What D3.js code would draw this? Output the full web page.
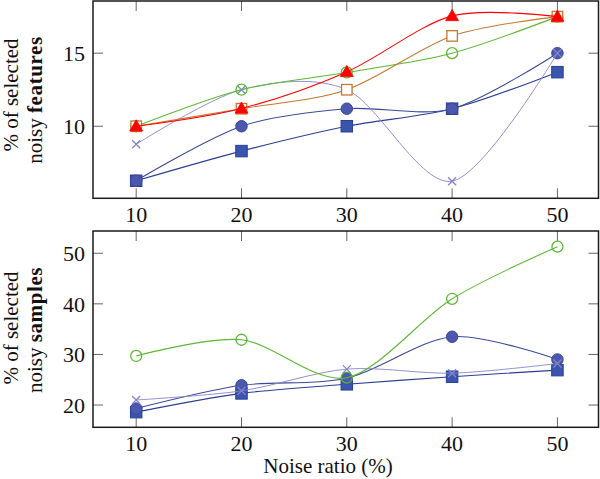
<!DOCTYPE html>
<html>
<head>
<meta charset="utf-8">
<script src="https://cdn.jsdelivr.net/npm/d3@7"></script>
<style>
  html, body { margin: 0; padding: 0; background: #fff; }
  svg { display: block; }
  text { font-family: "Liberation Serif", "Times New Roman", serif; fill: #111; }
</style>
</head>
<body>
<svg id="chart" width="600" height="479"></svg>
<script>
// ---- data ----
const noiseRatios = [10, 20, 30, 40, 50];
const xTickLabels = ["10", "20", "30", "40", "50"];

// top panel: % of selected noisy features
const featTicks = [10, 15];
const featBlueSquare = [6.27, 8.3, 10.0, 11.2, 13.7];
const featBlueCircle = [6.27, 10.0, 11.2, 11.2, 15.0];
const featPurpleCross = [8.77, 12.5, 12.5, 6.24, 15.0];
const featGreenCircle = [10.0, 12.5, 13.68, 15.0, 17.5];
const featOrangeSquare = [10.0, 11.2, 12.5, 16.18, 17.5];
const featRedTriangle = [10.0, 11.22, 13.72, 17.55, 17.5];

// bottom panel: % of selected noisy samples
const sampTicks = [20, 30, 40, 50];
const sampBlueSquare = [18.6, 22.3, 24.1, 25.6, 26.9];
const sampBlueCircle = [19.3, 23.9, 25.3, 33.5, 29.0];
const sampPurpleCross = [21.0, 22.8, 27.1, 26.3, 28.2];
const sampGreenCircle = [29.7, 32.9, 25.4, 41.0, 51.3];

// ---- styles ----
const styles = {
  blueSquare:   { color: "#2a3f94", fill: "#3a55ad", marker: "square", size: 11.5 },
  blueCircle:   { color: "#3c4899", fill: "#4b58ad", marker: "circle", size: 11.5 },
  purpleCross:  { color: "#8585cc", fill: "none",    marker: "cross",  size: 8 },
  greenCircle:  { color: "#5cb834", fill: "#ffffff", marker: "ocircle", size: 11 },
  orangeSquare: { color: "#c8772f", fill: "#ffffff", marker: "osquare", size: 10.5 },
  redTriangle:  { color: "#ff0000", fill: "#ff0000", marker: "triangle", size: 12 }
};

const svg = d3.select("#chart");
const frameLeft = 93, frameRight = 598.5;

const x = d3.scaleLinear().domain([5.9, 53.9]).range([frameLeft, frameRight]);

const panels = [
  {
    yDomain: [5.07, 18.57], top: 1, bottom: 198.3, ticks: featTicks,
    label1: "% of selected", label2a: "noisy ", label2b: "features",
    l1c: 95, l2c: 100,
    series: [
      ["blueSquare", featBlueSquare],
      ["blueCircle", featBlueCircle],
      ["purpleCross", featPurpleCross],
      ["greenCircle", featGreenCircle],
      ["orangeSquare", featOrangeSquare],
      ["redTriangle", featRedTriangle]
    ]
  },
  {
    yDomain: [15.6, 54.4], top: 231, bottom: 427.3, ticks: sampTicks,
    label1: "% of selected", label2a: "noisy ", label2b: "samples",
    l1c: 328, l2c: 330,
    series: [
      ["blueSquare", sampBlueSquare],
      ["blueCircle", sampBlueCircle],
      ["purpleCross", sampPurpleCross],
      ["greenCircle", sampGreenCircle]
    ]
  }
];

function drawMarker(g, type, st, cx, cy) {
  const s = st.size, h = s / 2;
  if (type === "square" || type === "osquare") {
    g.append("rect").attr("x", cx - h).attr("y", cy - h).attr("width", s).attr("height", s)
      .attr("fill", st.fill).attr("stroke", st.color).attr("stroke-width", type === "osquare" ? 1.3 : 1);
  } else if (type === "circle" || type === "ocircle") {
    g.append("circle").attr("cx", cx).attr("cy", cy).attr("r", h)
      .attr("fill", type === "ocircle" ? "none" : st.fill).attr("stroke", st.color)
      .attr("stroke-width", type === "ocircle" ? 1.3 : 1);
  } else if (type === "cross") {
    g.append("path").attr("d", `M${cx - h},${cy - h}L${cx + h},${cy + h}M${cx - h},${cy + h}L${cx + h},${cy - h}`)
      .attr("stroke", st.color).attr("stroke-width", 1.3).attr("fill", "none");
  } else if (type === "triangle") {
    const r = s * 0.62;
    const pts = [0, 1, 2].map(i => {
      const a = -Math.PI / 2 + i * 2 * Math.PI / 3;
      return [cx + r * Math.cos(a), cy + r * Math.sin(a) + 1];
    });
    g.append("path").attr("d", "M" + pts.map(p => p.join(",")).join("L") + "Z")
      .attr("fill", st.fill).attr("stroke", st.color).attr("stroke-width", 0.8);
  }
}

panels.forEach(p => {
  const y = d3.scaleLinear().domain(p.yDomain).range([p.bottom, p.top]);
  const g = svg.append("g");

  // ticks (inward, mirrored)
  const tickLen = 10;
  noiseRatios.forEach(v => {
    const xx = x(v);
    g.append("line").attr("x1", xx).attr("x2", xx).attr("y1", p.bottom).attr("y2", p.bottom - tickLen)
      .attr("stroke", "#666").attr("stroke-width", 1);
    g.append("line").attr("x1", xx).attr("x2", xx).attr("y1", p.top).attr("y2", p.top + tickLen)
      .attr("stroke", "#666").attr("stroke-width", 1);
  });
  p.ticks.forEach(v => {
    const yy = y(v);
    g.append("line").attr("x1", frameLeft).attr("x2", frameLeft + tickLen).attr("y1", yy).attr("y2", yy)
      .attr("stroke", "#666").attr("stroke-width", 1);
    g.append("line").attr("x1", frameRight).attr("x2", frameRight - tickLen).attr("y1", yy).attr("y2", yy)
      .attr("stroke", "#666").attr("stroke-width", 1);
  });

  // tick labels
  noiseRatios.forEach((v, i) => {
    g.append("text").attr("x", x(v)).attr("y", p.bottom + 24)
      .attr("text-anchor", "middle").attr("font-size", 22).text(xTickLabels[i]);
  });
  p.ticks.forEach(v => {
    g.append("text").attr("x", frameLeft - 8).attr("y", y(v)).attr("dy", "0.35em")
      .attr("text-anchor", "end").attr("font-size", 22).text(String(v));
  });

  // y label
  g.append("text").attr("transform", `translate(18,${p.l1c}) rotate(-90)`)
    .attr("text-anchor", "middle").attr("font-size", 21).text(p.label1);
  const t2 = g.append("text").attr("transform", `translate(42,${p.l2c}) rotate(-90)`)
    .attr("text-anchor", "middle").attr("font-size", 21);
  t2.append("tspan").text(p.label2a);
  t2.append("tspan").attr("font-weight", "bold").attr("letter-spacing", 0.6).text(p.label2b);

  // lines
  const line = d3.line()
    .x((d, i) => x(noiseRatios[i]))
    .y(d => y(d))
    .curve(d3.curveCardinal.tension(0.1));

  const dataG = g.append("g");
  p.series.forEach(([key, vals]) => {
    const st = styles[key];
    dataG.append("path").attr("d", line(vals)).attr("fill", "none")
      .attr("stroke", st.color).attr("stroke-width", key === "purpleCross" ? 1 : 1.1)
      .attr("opacity", key === "purpleCross" ? 0.9 : 1);
    vals.forEach((v, i) => drawMarker(dataG, st.marker, st, x(noiseRatios[i]), y(v)));
  });

  // frame
  g.append("rect").attr("x", frameLeft).attr("y", p.top)
    .attr("width", frameRight - frameLeft).attr("height", p.bottom - p.top)
    .attr("fill", "none").attr("stroke", "#1a1a1a").attr("stroke-width", 1.5);
});

// x axis title
svg.append("text").attr("x", 328).attr("y", 473).attr("text-anchor", "middle")
  .attr("font-size", 21).text("Noise ratio (%)");
</script>
</body>
</html>
